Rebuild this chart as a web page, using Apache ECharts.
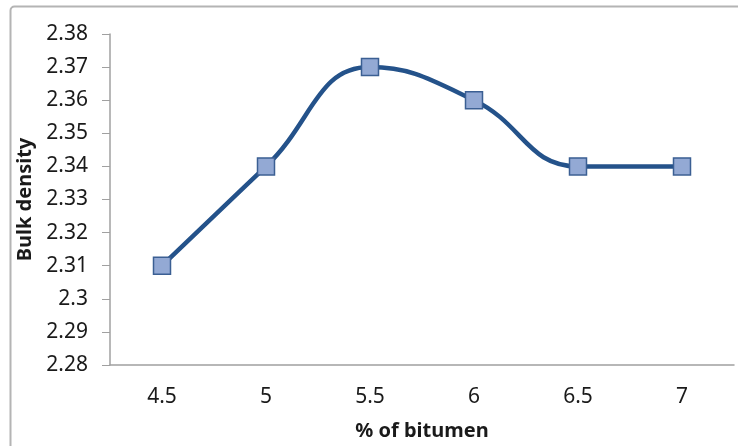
<!DOCTYPE html>
<html><head><meta charset="utf-8">
<script src="https://cdn.jsdelivr.net/npm/echarts@6/dist/echarts.min.js"></script>
<style>html,body{margin:0;padding:0;background:#fff}#c{width:738px;height:446px}</style>
</head><body><div id="c"></div>
<script>
const categories = ['4.5','5','5.5','6','6.5','7'];
const bulkDensity = [2.31, 2.34, 2.37, 2.36, 2.34, 2.34];
const yMin = 2.28, yMax = 2.38, yStep = 0.01;

const chart = echarts.init(document.getElementById('c'));
const font = '"Noto Sans", "Open Sans", sans-serif';
chart.setOption({
  animation: false,
  graphic: [{
    type: 'rect', left: 8, top: 4, z: -1,
    shape: { width: 780, height: 500, r: 4 },
    style: { fill: 'none', stroke: '#b4b4b4', lineWidth: 2 }
  }],
  grid: { left: 110, right: 4, top: 34, bottom: 81 },
  xAxis: {
    type: 'category', data: categories, boundaryGap: true,
    name: '% of bitumen', nameLocation: 'middle', nameGap: 56,
    nameTextStyle: { fontFamily: font, fontWeight: 'bold', fontSize: 20, color: '#1a1a1a' },
    axisLine: { lineStyle: { color: '#a0a0a0', width: 1.5 } },
    axisTick: { show: false },
    axisLabel: { fontFamily: font, fontSize: 21, color: '#1a1a1a', margin: 22 },
    splitLine: { show: false }
  },
  yAxis: {
    type: 'value', min: yMin, max: yMax, interval: yStep,
    name: 'Bulk density', nameLocation: 'middle', nameGap: 71,
    nameTextStyle: { fontFamily: font, fontWeight: 'bold', fontSize: 20, color: '#1a1a1a' },
    axisLine: { show: true, lineStyle: { color: '#a0a0a0', width: 1.5 } },
    axisTick: { show: true, length: 8, lineStyle: { color: '#a0a0a0' } },
    axisLabel: { fontFamily: font, fontSize: 21, color: '#1a1a1a', margin: 22,
      formatter: v => (+v.toFixed(2)).toString() },
    splitLine: { show: false }
  },
  series: [{
    type: 'line', data: bulkDensity, smooth: 0.45,
    lineStyle: { color: '#24528a', width: 4.5 },
    symbol: 'rect', symbolSize: 17,
    itemStyle: { color: '#93a9d4', borderColor: '#3b5f93', borderWidth: 1.5 }
  }]
});
</script></body></html>
